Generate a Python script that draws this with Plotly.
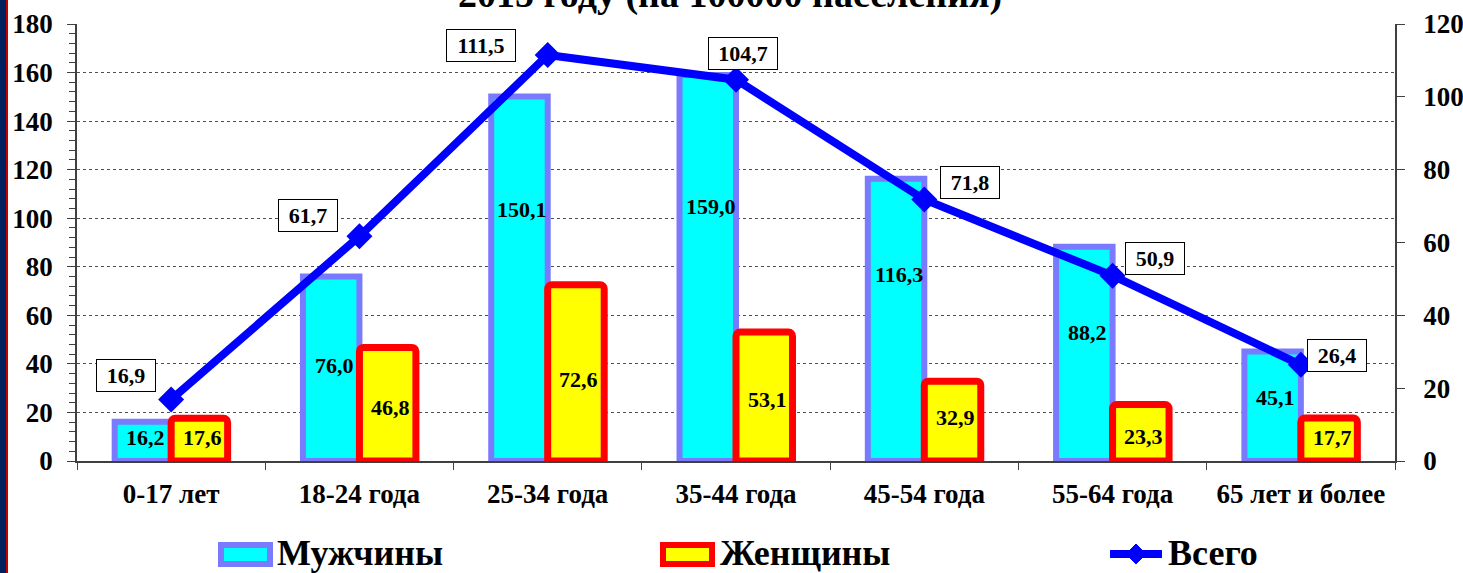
import plotly.graph_objects as go

# --- data ---------------------------------------------------------------
age_groups = ["0-17 лет", "18-24 года", "25-34 года", "35-44 года",
              "45-54 года", "55-64 года", "65 лет и более"]
men = [16.2, 76.0, 150.1, 159.0, 116.3, 88.2, 45.1]
women = [17.6, 46.8, 72.6, 53.1, 32.9, 23.3, 17.7]
total = [16.9, 61.7, 111.5, 104.7, 71.8, 50.9, 26.4]

series_names = ["Мужчины", "Женщины", "Всего"]
title_text = "2015 году (на 100000 населения)"

# --- layout constants ---------------------------------------------------
W, H = 1463, 573
ML, MR, MT, MB = 77, 68, 24, 112
PW, PH = W - ML - MR, H - MT - MB
FONT = "Liberation Serif, Times New Roman, serif"

# label placement inside bars (fraction of bar height) and box offsets (px)
men_label_frac = [0.59, 0.52, 0.69, 0.66, 0.66, 0.60, 0.58]
women_label_frac = [0.56, 0.47, 0.46, 0.48, 0.54, 0.44, 0.54]
total_label_shift = [(-45, 24), (-51, 21), (-67, 9), (7, 26),
                     (46, 17), (42, 17), (36, 9)]


def fmt(v):
    return f"{v:.1f}".replace(".", ",")


def px(x):
    return (x - ML) / PW


def py(y):
    return 1 - (y - MT) / PH


fig = go.Figure()

fig.add_trace(go.Bar(
    x=age_groups, y=men, name=series_names[0],
    marker=dict(color="#00ffff", line=dict(color="#7a7aff", width=6)),
    showlegend=False,
))
fig.add_trace(go.Bar(
    x=age_groups, y=women, name=series_names[1],
    marker=dict(color="#ffff00", line=dict(color="#ff0000", width=7),
                cornerradius=4),
    showlegend=False,
))
fig.add_trace(go.Scatter(
    x=age_groups, y=total, name=series_names[2], yaxis="y2",
    mode="lines+markers",
    line=dict(color="#0000ff", width=8),
    marker=dict(symbol="diamond", size=20, color="#0000ff"),
    showlegend=False,
))

annotations = []
lbl_font = dict(family=FONT, size=22, color="black")

for i, (m, w) in enumerate(zip(men, women)):
    annotations.append(dict(
        x=i - 0.15, y=m * men_label_frac[i], xref="x", yref="y",
        text=f"<b>{fmt(m)}</b>", showarrow=False, font=lbl_font, xshift=3))
    annotations.append(dict(
        x=i + 0.15, y=w * women_label_frac[i], xref="x", yref="y",
        text=f"<b>{fmt(w)}</b>", showarrow=False, font=lbl_font, xshift=3))

for i, t in enumerate(total):
    s = fmt(t)
    dx, dy = total_label_shift[i]
    annotations.append(dict(
        x=i, y=t, xref="x", yref="y2", text=f"<b>{s}</b>", showarrow=False,
        font=lbl_font, xshift=dx, yshift=dy,
        bgcolor="white", bordercolor="black", borderwidth=1, borderpad=3,
        width=len(s) * 10 + 12, height=25))

# title line (partly above the page edge)
annotations.append(dict(
    x=px(730), y=py(-6), xref="paper", yref="paper", yanchor="middle",
    text=f"<b>{title_text}</b>", showarrow=False,
    font=dict(family=FONT, size=38, color="black")))

# legend texts
leg_font = dict(family=FONT, size=36, color="black")
for name, lx in zip(series_names, [275, 718, 1166]):
    annotations.append(dict(
        x=px(lx), y=py(553), xref="paper", yref="paper",
        xanchor="left", yanchor="middle", text=f"<b>{name}</b>",
        showarrow=False, font=leg_font))

shapes = []
# navy strip with a red edge along the left side
shapes.append(dict(type="rect", xref="paper", yref="paper",
                   x0=px(0), x1=px(6), y0=py(H), y1=py(0),
                   fillcolor="#002060", line=dict(width=0), layer="above"))
shapes.append(dict(type="rect", xref="paper", yref="paper",
                   x0=px(6), x1=px(8), y0=py(H), y1=py(0),
                   fillcolor="#c00000", line=dict(width=0), layer="above"))

# legend symbols
shapes.append(dict(type="rect", xref="paper", yref="paper",
                   x0=px(221), x1=px(270), y0=py(564), y1=py(545),
                   fillcolor="#00ffff", line=dict(color="#7a7aff", width=6)))
shapes.append(dict(type="rect", xref="paper", yref="paper",
                   x0=px(663), x1=px(712), y0=py(564), y1=py(545),
                   fillcolor="#ffff00", line=dict(color="#ff0000", width=6)))
shapes.append(dict(type="line", xref="paper", yref="paper",
                   x0=px(1110), x1=px(1162), y0=py(554), y1=py(554),
                   line=dict(color="#0000ff", width=8)))
cx, cy, r = 1136, 554, 10
diamond = (f"M {px(cx)},{py(cy - r)} L {px(cx + r)},{py(cy)} "
           f"L {px(cx)},{py(cy + r)} L {px(cx - r)},{py(cy)} Z")
shapes.append(dict(type="path", xref="paper", yref="paper", path=diamond,
                   fillcolor="#0000ff", line=dict(color="#0000ff", width=1)))

tick_font = dict(family=FONT, size=27, color="black")

fig.update_layout(
    width=W, height=H,
    margin=dict(l=ML, r=MR, t=MT, b=MB, pad=0, autoexpand=False),
    paper_bgcolor="white", plot_bgcolor="white",
    barmode="group", bargap=0.4, bargroupgap=0,
    font=dict(family=FONT, color="black"),
    xaxis=dict(
        type="category", tickson="boundaries", ticks="outside", ticklen=7,
        tickcolor="#404040", showline=True, linecolor="#404040", linewidth=1.5,
        showgrid=False, tickfont=dict(family=FONT, size=27, color="black"),
        ticklabelstandoff=8, fixedrange=True, automargin=False,
        tickvals=age_groups, ticktext=[f"<b>{a}</b>" for a in age_groups],
    ),
    yaxis=dict(
        range=[0, 180], dtick=20, ticks="outside", ticklen=8,
        tickcolor="#404040", showline=True, linecolor="#404040", linewidth=1.5,
        showgrid=True, gridcolor="#505050", griddash="dot", gridwidth=1,
        zeroline=False, tickfont=tick_font, ticklabelstandoff=9,
        automargin=False,
        tickvals=list(range(0, 181, 20)),
        ticktext=[f"<b>{v}</b>" for v in range(0, 181, 20)],
        minor=dict(dtick=4, ticks="outside", ticklen=6, tickcolor="#404040",
                   showgrid=False),
    ),
    yaxis2=dict(
        range=[0, 120], overlaying="y", side="right", ticks="outside",
        ticklen=8, tickcolor="#404040", showline=True, linecolor="#404040",
        linewidth=1.5, showgrid=False, zeroline=False, tickfont=tick_font,
        ticklabelstandoff=13, automargin=False,
        tickvals=list(range(0, 121, 20)),
        ticktext=[f"<b>{v}</b>" for v in range(0, 121, 20)],
    ),
    annotations=annotations,
    shapes=shapes,
    showlegend=False,
)

fig.write_html("out.html")
